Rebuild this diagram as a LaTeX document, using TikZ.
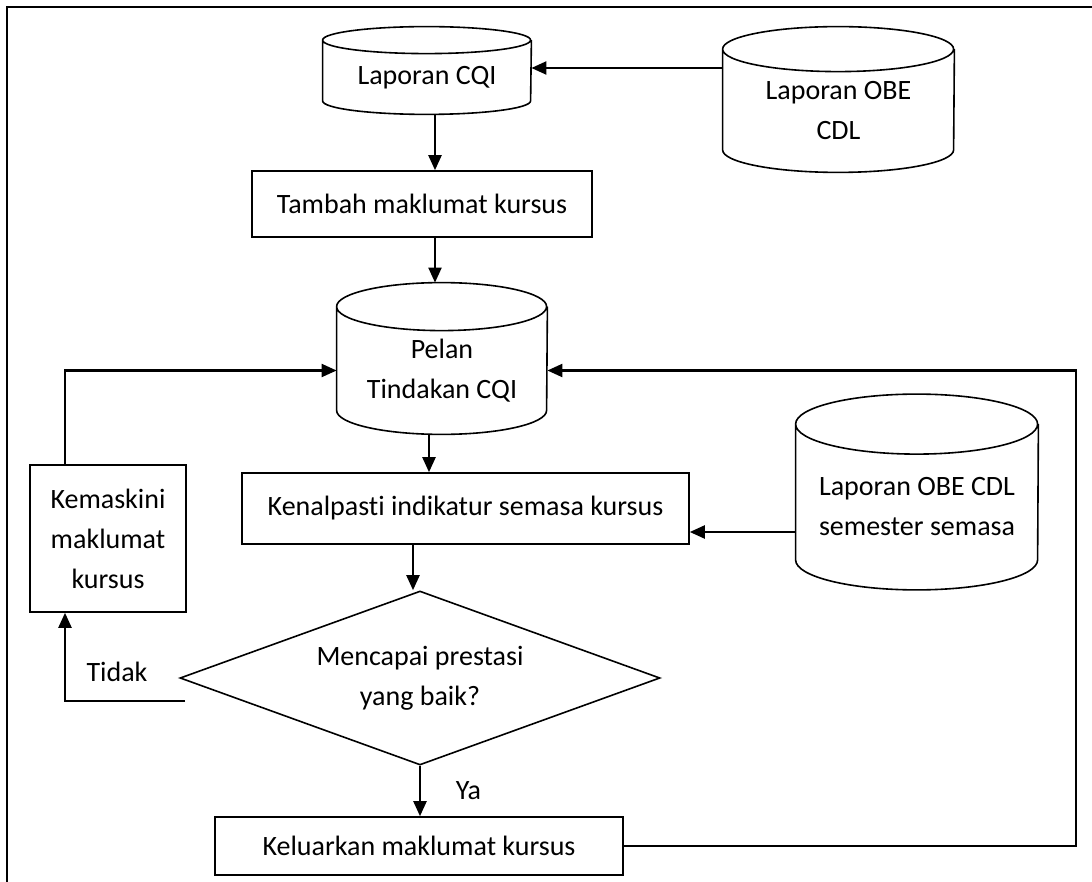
\documentclass[tikz,border=0pt]{standalone}
\usepackage{fontspec}
\setmainfont{Carlito}[Ligatures=NoCommon]
\usetikzlibrary{shapes.geometric}
\usetikzlibrary{arrows.meta}

% outline of a data store round a node: node, x radius, y radius
\newcommand\drum[3]{%
\draw[outline] (#1.north west) arc[start angle=180,end angle=540,x radius=#2,y radius=#3]
  -- ([yshift=#3]#1.south west) arc[start angle=180,end angle=360,x radius=#2,y radius=#3]
  -- (#1.north east);
\coordinate (#1 top) at ([yshift=#3]#1.north);
}

\begin{document}
\begin{tikzpicture}[x=0.5pt,y=-0.5pt,
every node/.style={font=\fontsize{14}{20}\selectfont},
outline/.style={line width=0.8pt},
box/.style={draw,outline,inner sep=0pt,align=center},
store/.style={inner sep=0pt,align=center},
arr/.style={line width=1.1pt,-{Triangle[length=7.5pt,width=6.5pt]}}]
\useasboundingbox (0,0) rectangle (1092,882);
\draw[line width=1pt] (7,882) -- (7,7) -- (1092,7);

% data stores
\node[store,minimum width=104pt,minimum height=36.75pt] (cqi) at (427,77.25) {Laporan CQI};
\node[store,minimum width=115.5pt,minimum height=61.25pt] (obe) at (838.5,110.75) {Laporan OBE\\CDL};
\node[store,minimum width=105pt,minimum height=63.5pt] (pelan) at (442,370.5) {Pelan\\Tindakan CQI};
\node[store,minimum width=121pt,minimum height=82.5pt] (sem) at (917,507) {Laporan OBE CDL\\semester semasa};
\drum{cqi}{52pt}{6.75pt}
\drum{obe}{57.75pt}{11.25pt}
\drum{pelan}{52.5pt}{12pt}
\drum{sem}{60.5pt}{15pt}

% steps
\node[box,minimum width=170pt,minimum height=33pt] (tam) at (422,204) {Tambah maklumat kursus};
\node[box,minimum width=223.5pt,minimum height=35.5pt] (ken) at (465.5,508.5) {Kenalpasti indikatur semasa kursus};
\node[box,minimum width=78pt,minimum height=73.5pt] (kem) at (108,538.5) {Kemaskini\\maklumat\\kursus};
\node[draw,outline,diamond,aspect=2.76,inner sep=0pt,align=center,
  minimum width=240pt,minimum height=87pt] (dia) at (420,678) {Mencapai prestasi\\yang baik?};
\node[box,minimum width=204pt,minimum height=29pt] (kel) at (419,846) {Keluarkan maklumat kursus};

% connectors
\draw[arr] (obe.west) ++(0,-42.75) coordinate (o1) -- (o1 -| cqi.east);
\draw[arr] (cqi.south) ++(8,0) coordinate (c1) -- (c1 |- tam.north);
\draw[arr] (tam.south) ++(13,0) coordinate (t1) -- (t1 |- pelan top);
\draw[arr] (pelan.south) ++(-13,0) coordinate (p1) -- (p1 |- ken.north);
\draw[arr] (sem.west) ++(0,25) coordinate (s1) -- (s1 -| ken.east);
\draw[arr] (ken.south) ++(-52.5,0) coordinate (k1) -- (k1 |- dia.north);
\draw[arr] (dia.south) -- (dia.south |- kel.north) node[midway,right=14pt] (ya) {Ya};
\coordinate (tidak) at (185,701);
\path (kem.south) ++(-43,0) coordinate (m1);
\draw[arr] (tidak) -| (m1);
\node (tidaklbl) at (117,672) {Tidak};
\draw[arr] (kem.north) ++(-43,0) |- (pelan.west);
\draw[arr] (kel.east) -- ++(452,0) |- (pelan.east);
\end{tikzpicture}
\end{document}
